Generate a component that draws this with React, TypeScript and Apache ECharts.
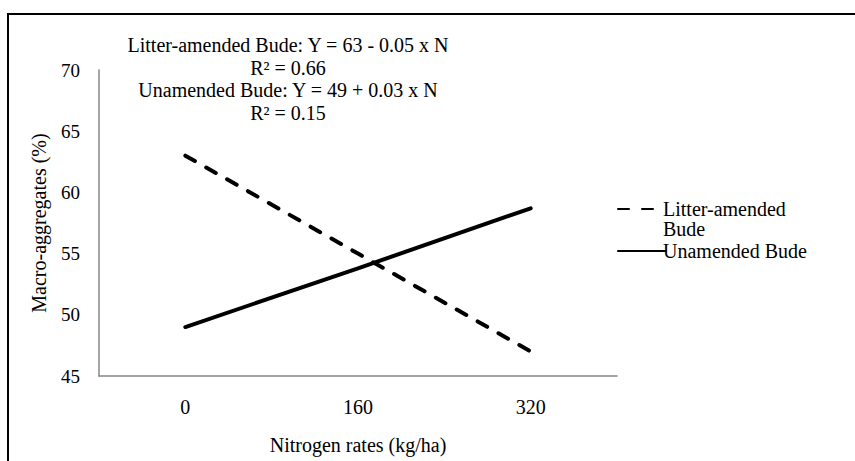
import React, { useEffect, useRef } from "react";
import * as echarts from "echarts";

const categories = ["0", "160", "320"];
const litterAmended = [63, 55, 47];
const unamended = [49, 53.8, 58.7];
const yTicks = { min: 45, max: 70, interval: 5 };
const equationLines = [
  "Litter-amended Bude: Y = 63 - 0.05 x N",
  "R\u00b2 = 0.66",
  "Unamended Bude: Y = 49 + 0.03 x N",
  "R\u00b2 = 0.15",
];

const FONT = "Liberation Serif";
const FS = 20;

export default function App() {
  const ref = useRef<HTMLDivElement>(null);
  useEffect(() => {
    if (!ref.current) return;
    const chart = echarts.init(ref.current, null, { renderer: "svg" });
    const eqY = [45, 68, 90, 113];
    chart.setOption({
      animation: false,
      backgroundColor: "#ffffff",
      textStyle: { fontFamily: FONT },
      grid: { left: 99, right: 238, top: 70, bottom: 85 },
      xAxis: {
        type: "category",
        data: categories,
        boundaryGap: true,
        axisLine: { lineStyle: { color: "#868686", width: 1.5 } },
        axisTick: { show: false },
        axisLabel: { color: "#000", fontSize: FS, fontFamily: FONT, margin: 21 },
        name: "Nitrogen rates (kg/ha)",
        nameLocation: "middle",
        nameGap: 59,
        nameTextStyle: { color: "#000", fontSize: FS, fontFamily: FONT },
      },
      yAxis: {
        type: "value",
        min: yTicks.min,
        max: yTicks.max,
        interval: yTicks.interval,
        splitLine: { show: false },
        axisLine: { show: true, lineStyle: { color: "#868686", width: 1.5 } },
        axisTick: { show: false },
        axisLabel: { color: "#000", fontSize: 19, fontFamily: FONT, margin: 19 },
        name: "Macro-aggregates (%)",
        nameLocation: "middle",
        nameGap: 50,
        nameTextStyle: { color: "#000", fontSize: FS, fontFamily: FONT },
      },
      legend: [
        {
          orient: "vertical",
          left: 612,
          top: 194,
          data: ["Litter-amended Bude"],
          formatter: () => "Litter-amended",
          itemWidth: 38,
          itemHeight: 14,
          itemGap: 0,
          itemStyle: { opacity: 0 },
          textStyle: { color: "#000", fontSize: FS, fontFamily: FONT, padding: [0, 0, 0, 2] },
        },
        {
          orient: "vertical",
          left: 612,
          top: 236,
          data: ["Unamended Bude"],
          itemWidth: 48,
          itemHeight: 14,
          itemGap: 0,
          itemStyle: { opacity: 0 },
          textStyle: { color: "#000", fontSize: FS, fontFamily: FONT, padding: [0, 0, 0, -8] },
        },
      ],
      series: [
        {
          name: "Litter-amended Bude",
          type: "line",
          data: litterAmended,
          symbol: "none",
          lineStyle: { color: "#000", width: 4, type: [11, 13], cap: "round" },
          itemStyle: { color: "#000" },
        },
        {
          name: "Unamended Bude",
          type: "line",
          data: unamended,
          symbol: "none",
          lineStyle: { color: "#000", width: 4, cap: "round" },
          itemStyle: { color: "#000" },
        },
      ],
      graphic: [
        {
          type: "rect",
          shape: { x: 8, y: 14, width: 900, height: 500 },
          style: { fill: "none", stroke: "#000", lineWidth: 2 },
          silent: true,
        },
        ...equationLines.map((t, i) => ({
          type: "text",
          x: 288,
          y: eqY[i],
          style: {
            text: t,
            fill: "#000",
            fontSize: FS,
            fontFamily: FONT,
            textAlign: "center",
            textVerticalAlign: "middle",
          },
        })),
        {
          type: "text",
          x: 663,
          y: 229,
          style: {
            text: "Bude",
            fill: "#000",
            fontSize: FS,
            fontFamily: FONT,
            textAlign: "left",
            textVerticalAlign: "middle",
          },
        },
      ],
    });
    return () => chart.dispose();
  }, []);
  return (
    <div
      ref={ref}
      style={{ position: "absolute", left: 0, top: 0, width: 855, height: 461 }}
    />
  );
}
